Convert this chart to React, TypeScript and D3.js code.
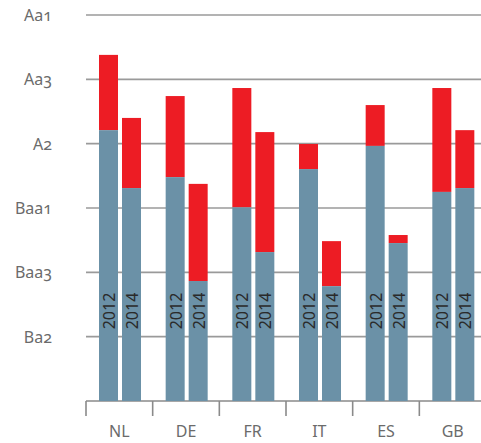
import React from "react";
import * as d3 from "d3";

const countries = ["NL", "DE", "FR", "IT", "ES", "GB"];
const years = ["2012", "2014"];
const tickLabels = ["Aa1", "Aa3", "A2", "Baa1", "Baa3", "Ba2"];
const tickValues = [12, 10, 8, 6, 4, 2];
// notch scores above B1
const blue2012 = [8.42, 6.96, 6.02, 7.21, 7.93, 6.5];
const red2012 = [10.76, 9.48, 9.73, 7.99, 9.2, 9.73];
const blue2014 = [6.62, 3.73, 4.63, 3.57, 4.91, 6.62];
const red2014 = [8.8, 6.75, 8.36, 4.97, 5.16, 8.42];

const W = 481;
const H = 443;
const left = 86;
const right = 486;
const top = 15;
const bottom = 401;

const BLUE = "#6b91a7";
const RED = "#ed1c24";
const FONT = "'Noto Sans', 'Open Sans', sans-serif";

export default function App() {
  const x = d3.scaleBand<string>().domain(countries).range([left, right]).paddingInner(0).paddingOuter(0);
  const xi = d3
    .scaleBand<string>()
    .domain(years)
    .range([13, 55])
    .paddingInner(4 / 23)
    .paddingOuter(0);
  const y = d3.scaleLinear().domain([0, 12]).range([bottom, top]);

  const series = [
    { year: "2012", blue: blue2012, red: red2012 },
    { year: "2014", blue: blue2014, red: red2014 },
  ];

  return (
    <svg
      width={W}
      height={H}
      style={{ position: "absolute", left: 0, top: 0, background: "#fff" }}
      fontFamily={FONT}
    >
      {tickValues.map((v, i) => (
        <g key={v}>
          <line x1={left} x2={W} y1={y(v)} y2={y(v)} stroke="#9a9a9a" strokeWidth={1.6} />
          <text
            x={52}
            y={y(v)}
            textAnchor="end"
            dominantBaseline="central"
            fontSize={16}
            fill="#6b6b6b"
            style={{ fontVariantNumeric: "oldstyle-nums" }}
          >
            {tickLabels[i]}
          </text>
        </g>
      ))}
      <line x1={left} x2={W} y1={bottom} y2={bottom} stroke="#8a8a8a" strokeWidth={1.6} />
      {countries.map((c) => (
        <line key={c} x1={x(c)!} x2={x(c)!} y1={bottom} y2={416} stroke="#8a8a8a" strokeWidth={1.6} />
      ))}
      {countries.map((c, ci) =>
        series.map((s) => {
          const bx = (x(c) as number) + (xi(s.year) as number);
          const bw = xi.bandwidth();
          return (
            <g key={c + s.year}>
              <rect x={bx} width={bw} y={y(s.red[ci])} height={y(s.blue[ci]) - y(s.red[ci])} fill={RED} />
              <rect x={bx} width={bw} y={y(s.blue[ci])} height={y(0) - y(s.blue[ci])} fill={BLUE} />
              <text
                transform={`translate(${bx + bw / 2 + 0.5},311) rotate(-90)`}
                textAnchor="middle"
                dominantBaseline="central"
                fontSize={16}
                fill="#2a2a2a"
              >
                {s.year}
              </text>
            </g>
          );
        })
      )}
      {countries.map((c) => (
        <text
          key={c}
          x={(x(c) as number) + x.bandwidth() / 2}
          y={437}
          textAnchor="middle"
          fontSize={16}
          fill="#6b6b6b"
        >
          {c}
        </text>
      ))}
    </svg>
  );
}
